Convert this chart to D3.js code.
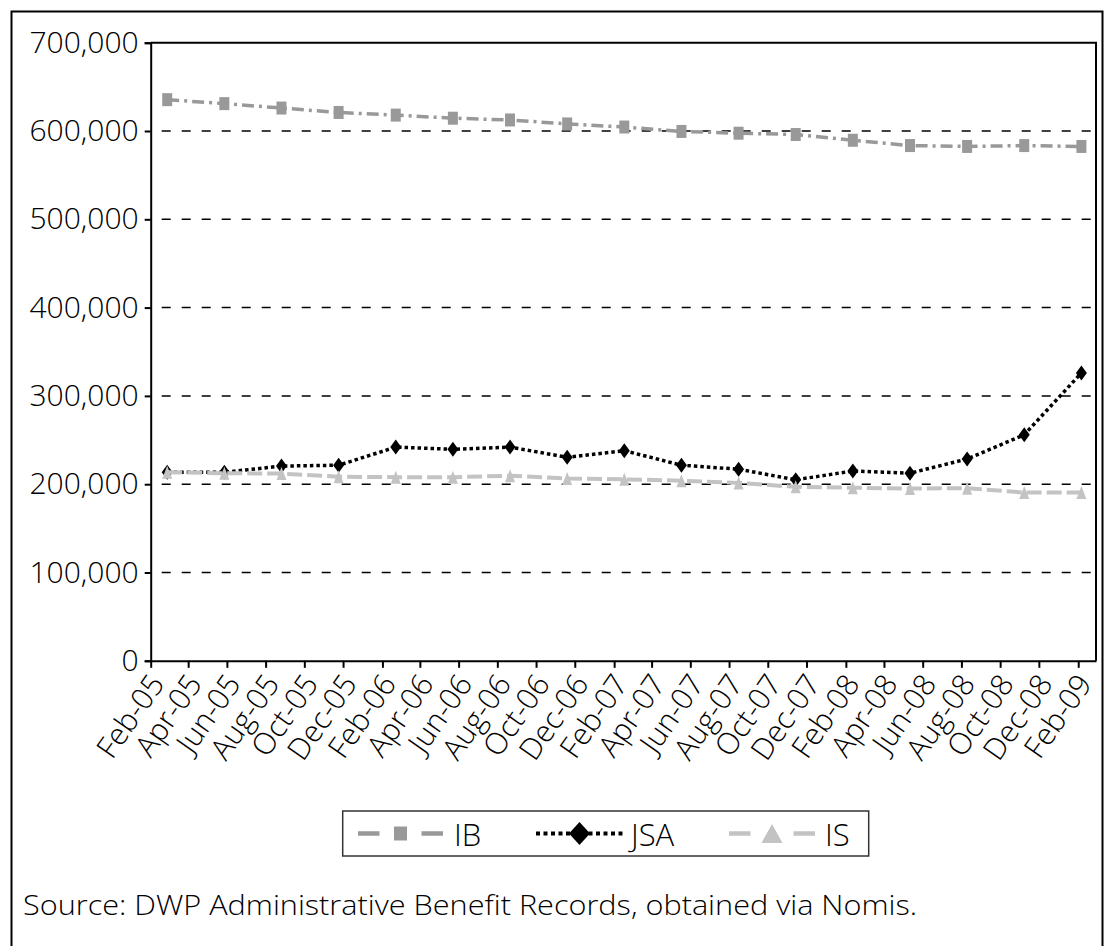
<!DOCTYPE html>
<html><head><meta charset="utf-8">
<script src="https://cdn.jsdelivr.net/npm/d3@7"></script>
<style>
body{margin:0;background:#fff}
svg{display:block}
text{font-family:"Open Sans",sans-serif;font-weight:300;fill:#000}
</style>
</head><body>
<svg id="c" width="1105" height="946"></svg>
<script>
// ---- data ----
const periods = ["2005-02-27","2005-05-28","2005-08-26","2005-11-24","2006-02-22","2006-05-23","2006-08-21","2006-11-19","2007-02-17","2007-05-18","2007-08-16","2007-11-14","2008-02-12","2008-05-12","2008-08-10","2008-11-08","2009-02-06"];
const ibValues  = [635500,631000,626000,621000,618000,614500,612500,608000,604500,599500,597500,596000,589500,583500,582500,583500,582500];
const jsaValues = [213500,213500,220500,221500,242000,239500,242000,230500,238000,221500,217000,205000,215000,212500,228500,256000,326000];
const isValues  = [213500,212500,212000,208500,208000,208000,209500,206500,205500,204000,201500,197000,196000,195000,195500,190500,190500];
const tickLabels = ["Feb-05","Apr-05","Jun-05","Aug-05","Oct-05","Dec-05","Feb-06","Apr-06","Jun-06","Aug-06","Oct-06","Dec-06","Feb-07","Apr-07","Jun-07","Aug-07","Oct-07","Dec-07","Feb-08","Apr-08","Jun-08","Aug-08","Oct-08","Dec-08","Feb-09"];
const yTicks = [0,100000,200000,300000,400000,500000,600000,700000];
const seriesNames = ["IB","JSA","IS"];
const axisEnd = "Mar-09";
const sourceText = "Source: DWP Administrative Benefit Records, obtained via Nomis.";

// ---- layout ----
const L = 150.7, R = 1096, T = 42.7, B = 660.8;
const FONT = "'Open Sans',sans-serif";
const parseTick = d3.utcParse("%b-%y");
const parseDay = d3.utcParse("%Y-%m-%d");
const svg = d3.select("#c");

// outer frame
svg.append("rect").attr("x",11.5).attr("y",11.5).attr("width",1091).attr("height",1000)
  .attr("fill","none").attr("stroke","#000").attr("stroke-width",2);

const x = d3.scaleUtc().domain([parseTick(tickLabels[0]), parseTick(axisEnd)]).range([L, R]);
const y = d3.scaleLinear().domain([0, 700000]).range([B, T]);

// gridlines
svg.append("g").selectAll("line").data(yTicks.filter(v => v > 0 && v < 700000)).join("line")
  .attr("x1", L).attr("x2", R).attr("y1", d => y(d)).attr("y2", d => y(d))
  .attr("stroke","#000").attr("stroke-width",1.5)
  .attr("stroke-dasharray","9,11").attr("stroke-dashoffset",9);

// plot frame (top & right)
svg.append("path").attr("d", `M${L},${T}H${R}V${B}`).attr("fill","none")
  .attr("stroke","#000").attr("stroke-width",2);

// y axis
const yAxis = svg.append("g").attr("transform", `translate(${L},0)`)
  .call(d3.axisLeft(y).tickValues(yTicks).tickFormat(d3.format(",")).tickSize(6).tickPadding(6));
yAxis.select(".domain").attr("stroke","#000").attr("stroke-width",2);
yAxis.selectAll(".tick line").attr("stroke","#000").attr("stroke-width",2);
yAxis.selectAll("text").attr("font-size",30).attr("font-family",FONT).attr("font-weight",300).attr("fill","#000");

// x axis
const tickDates = tickLabels.map(parseTick);
const xAxis = svg.append("g").attr("transform", `translate(0,${B})`)
  .call(d3.axisBottom(x).tickValues(tickDates).tickFormat(d3.utcFormat("%b-%y")).tickSize(7).tickSizeOuter(0));
xAxis.select(".domain").attr("stroke","#000").attr("stroke-width",2);
xAxis.selectAll(".tick line").attr("stroke","#000").attr("stroke-width",2);
xAxis.selectAll("text").attr("font-size",30).attr("font-family",FONT).attr("font-weight",300).attr("fill","#000")
  .attr("text-anchor","end").attr("x",0).attr("y",0).attr("dy","0.71em")
  .attr("transform","translate(-3,11) rotate(-55)");

// series
const dates = periods.map(parseDay);
const series = [
  {name: seriesNames[0], values: ibValues,  color:"#999999", dash:"12,5,3,5", width:3.5, marker:"square"},
  {name: seriesNames[1], values: jsaValues, color:"#000000", dash:"3.5,3",    width:3.5, marker:"diamond"},
  {name: seriesNames[2], values: isValues,  color:"#c3c3c3", dash:"15,5",     width:4,   marker:"triangle"}
];
function markerPath(type, w, h) {
  if (type === "square") return `M${-w/2},${-h/2}h${w}v${h}h${-w}Z`;
  if (type === "diamond") return `M0,${-h/2}L${w/2},0L0,${h/2}L${-w/2},0Z`;
  return `M0,${-h/2}L${w/2},${h/2}L${-w/2},${h/2}Z`;
}
const line = d3.line().x(d => x(d[0])).y(d => y(d[1]));
series.forEach(s => {
  const pts = dates.map((d, i) => [d, s.values[i]]);
  svg.append("path").datum(pts).attr("d", line).attr("fill","none")
    .attr("stroke", s.color).attr("stroke-width", s.width).attr("stroke-dasharray", s.dash);
  svg.append("g").selectAll("path").data(pts).join("path")
    .attr("transform", d => `translate(${x(d[0])},${y(d[1])})`)
    .attr("d", markerPath(s.marker, s.marker === "diamond" ? 11 : 10, s.marker === "diamond" ? 15 : 13))
    .attr("fill", s.color);
});

// legend
const lg = svg.append("g");
lg.append("rect").attr("x",342.7).attr("y",811).attr("width",526).attr("height",45)
  .attr("fill","#fff").attr("stroke","#333").attr("stroke-width",1.5);
const legendItems = [
  {s: series[0], x0: 358, x1: 443, mx: 400.5, tx: 454, mw: 13, mh: 14},
  {s: series[1], x0: 536, x1: 623, mx: 579.5, tx: 631, mw: 21, mh: 23},
  {s: series[2], x0: 729, x1: 815, mx: 772, tx: 825, mw: 21, mh: 19}
];
const ly = 833.5;
legendItems.forEach(it => {
  if (it.s.marker === "diamond") {
    lg.append("line").attr("x1",it.x0).attr("x2",it.x1).attr("y1",ly).attr("y2",ly)
      .attr("stroke",it.s.color).attr("stroke-width",4).attr("stroke-dasharray","4,3.5");
  } else {
    [[it.x0, it.x0 + 21.5],[it.x1 - 21.5, it.x1]].forEach(seg => {
      lg.append("line").attr("x1",seg[0]).attr("x2",seg[1]).attr("y1",ly).attr("y2",ly)
        .attr("stroke",it.s.color).attr("stroke-width",4.5);
    });
  }
  lg.append("path").attr("transform",`translate(${it.mx},${ly})`)
    .attr("d", markerPath(it.s.marker, it.mw, it.mh)).attr("fill", it.s.color);
  lg.append("text").attr("x", it.tx).attr("y", 846).attr("font-size",31).text(it.s.name);
});

// source note
const src = svg.append("text").attr("x",23).attr("y",915).attr("font-size",28).text(sourceText);
const w = src.node().getComputedTextLength();
if (Math.abs(w - 894) > 10) src.attr("textLength", 894).attr("lengthAdjust","spacingAndGlyphs");
</script>
</body></html>
